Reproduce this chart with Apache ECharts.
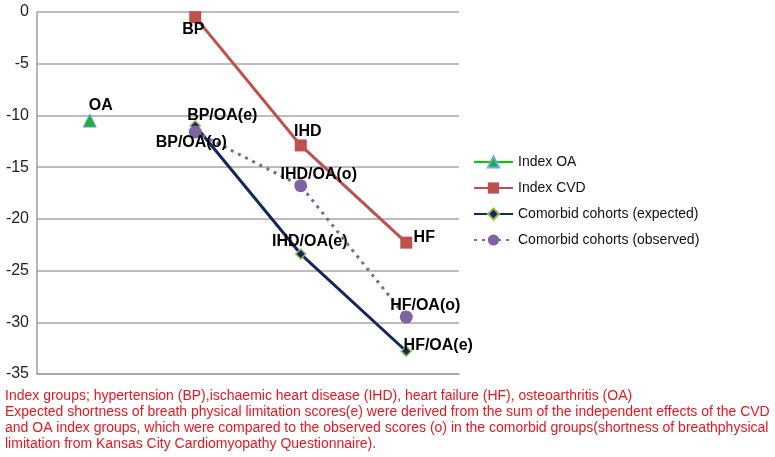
<!DOCTYPE html>
<html>
<head>
<meta charset="utf-8">
<script src="https://cdn.jsdelivr.net/npm/echarts@6/dist/echarts.min.js"></script>
<style>
html,body{margin:0;padding:0;background:#fff;}
#chart{width:775px;height:457px;}
</style>
</head>
<body>
<div id="chart"></div>
<script>
// ---- data ----
var categories = ['OA', 'BP', 'IHD', 'HF'];
var seriesNames = ['Index OA', 'Index CVD', 'Comorbid cohorts (expected)', 'Comorbid cohorts (observed)'];
var indexOA = [-10.5, null, null, null];
var indexCVD = [null, -0.5, -12.9, -22.3];
var comorbidExpected = [null, -11.0, -23.4, -32.8];
var comorbidObserved = [null, -11.6, -16.8, -29.5];
var labelsOA = ['OA', '', '', ''];
var labelsCVD = ['', 'BP', 'IHD', 'HF'];
var labelsExpected = ['', 'BP/OA(e)', 'IHD/OA(e)', 'HF/OA(e)'];
var labelsObserved = ['', 'BP/OA(o)', 'IHD/OA(o)', 'HF/OA(o)'];
var yMin = -35, yMax = 0, yStep = 5;
var captionLines = [
  'Index groups; hypertension (BP),ischaemic heart disease (IHD), heart failure (HF), osteoarthritis (OA)',
  'Expected shortness of breath physical limitation scores(e) were derived from the sum of the independent effects of the CVD',
  'and OA index groups, which were compared to the observed scores (o) in the comorbid groups(shortness of breathphysical',
  'limitation from Kansas City Cardiomyopathy Questionnaire).'
];

// ---- label placement (style, not data) ----
var offOA = [[11, -15], null, null, null];
var offCVD = [null, [-2, 12], [7, -14], [18, -5]];
var offExp = [null, [27, -10], [9, -12], [32, -6]];
var offObs = [null, [-4, 11], [18, -11], [19, -12]];

var labelFont = {fontFamily: 'Liberation Sans, Arial, sans-serif', fontWeight: 'bold', fontSize: 16, color: '#000'};

function buildData(values, labels, offsets) {
  return values.map(function (v, i) {
    if (v === null) return null;
    var d = {value: v};
    if (labels[i]) {
      d.label = Object.assign({show: true, position: 'inside', offset: offsets[i], formatter: labels[i]}, labelFont);
    }
    return d;
  });
}

var chart = echarts.init(document.getElementById('chart'), null, {renderer: 'canvas'});
var option = {
  animation: false,
  backgroundColor: '#fff',
  textStyle: {fontFamily: 'Liberation Sans, Arial, sans-serif'},
  grid: {left: 37, top: 12, right: 316, bottom: 83, containLabel: false},
  legend: {
    orient: 'vertical',
    left: 473,
    top: 155,
    padding: 0,
    itemWidth: 39,
    itemHeight: 14,
    itemGap: 12,
    textStyle: {fontSize: 14, color: '#111', fontFamily: 'Liberation Sans, Arial, sans-serif'},
    data: seriesNames
  },
  xAxis: {
    type: 'category',
    data: categories,
    boundaryGap: true,
    axisLine: {show: true, onZero: false, lineStyle: {color: '#a0a0a0', width: 1.5}},
    axisTick: {show: false},
    axisLabel: {show: false},
    splitLine: {show: false}
  },
  yAxis: {
    type: 'value',
    min: yMin, max: yMax, interval: yStep,
    axisLine: {show: true, lineStyle: {color: '#a0a0a0', width: 1.5}},
    axisTick: {show: false},
    axisLabel: {fontSize: 16, color: '#222', margin: 8, fontFamily: 'Liberation Sans, Arial, sans-serif'},
    splitLine: {show: true, lineStyle: {color: '#a6a6a6', width: 1.5}}
  },
  series: [
    {
      name: seriesNames[0], type: 'line', connectNulls: false,
      symbol: 'triangle', symbolSize: 13,
      itemStyle: {color: '#1fae3a', borderColor: '#6fa8dc', borderWidth: 1},
      lineStyle: {color: '#00d000', width: 3},
      data: buildData(indexOA, labelsOA, offOA), z: 3
    },
    {
      name: seriesNames[1], type: 'line',
      symbol: 'rect', symbolSize: 12,
      itemStyle: {color: '#c0504d'},
      lineStyle: {color: '#c0504d', width: 3},
      data: buildData(indexCVD, labelsCVD, offCVD), z: 3
    },
    {
      name: seriesNames[2], type: 'line',
      symbol: 'diamond', symbolSize: 10,
      itemStyle: {color: '#14285e', borderColor: '#9bbb59', borderWidth: 1.5},
      lineStyle: {color: '#14285e', width: 3},
      data: buildData(comorbidExpected, labelsExpected, offExp), z: 4
    },
    {
      name: seriesNames[3], type: 'line',
      symbol: 'circle', symbolSize: 13,
      itemStyle: {color: '#8064a2'},
      lineStyle: {color: '#8064a2', width: 3, type: [3, 5]},
      data: buildData(comorbidObserved, labelsObserved, offObs), z: 5
    }
  ],
  graphic: captionLines.map(function (t, i) {
    return {
      type: 'text', left: 5, top: 389 + i * 16,
      style: {text: t, fill: '#e8161f', font: '14px "Liberation Sans", Arial, sans-serif'}
    };
  })
};
chart.setOption(option);
</script>
</body>
</html>
